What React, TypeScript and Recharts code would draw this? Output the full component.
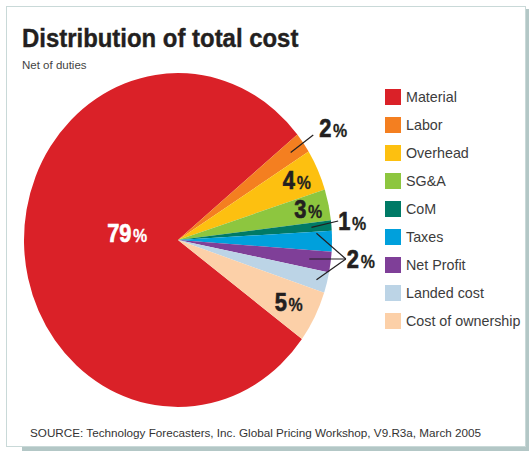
import React from 'react'
import { PieChart, Pie, Cell, Legend } from 'recharts'

const categories = ['Material', 'Labor', 'Overhead', 'SG&A', 'CoM', 'Taxes', 'Net Profit', 'Landed cost', 'Cost of ownership']
const shares = [79, 2, 4, 3, 1, 2, 2, 2, 5]
const colors = ['#DA2128', '#F47F20', '#FDC010', '#8DC63F', '#007A66', '#00A0DC', '#7F3F98', '#BCD4E6', '#FCD0A8']

const data = categories.map((name, i) => ({ name, value: shares[i] }))

const SANS = "'Liberation Sans', Arial, Helvetica, sans-serif"
const INK = '#231f20'
const RAD = Math.PI / 180
// the printed pie is a touch taller than it is wide
const SY = 1.084

// condensed heavy figures, squeezed since no narrow face is installed
const Pct = ({ x, y, v, anchor = 'start', fill = INK }: any) => (
  <text
    transform={`translate(${x},${y}) scale(0.84,1)`}
    x={0}
    y={0}
    textAnchor={anchor}
    fill={fill}
    stroke={fill}
    strokeWidth={0.7}
    fontFamily={SANS}
    fontWeight={700}
  >
    <tspan fontSize={26}>{v}</tspan>
    <tspan fontSize={19} dx={2} strokeWidth={0.3}>%</tspan>
  </text>
)

const renderLabel = (props: any) => {
  const { cx, cy, midAngle, outerRadius, index, value } = props
  const pt = (f: number, a: number) => ({
    x: cx + outerRadius * f * Math.cos(-a * RAD),
    y: cy + outerRadius * f * Math.sin(-a * RAD) * SY,
  })
  const hub = { x: cx + outerRadius * 1.09, y: cy + 19 }

  if (index === 0) {
    const p = pt(0.33, midAngle)
    return <Pct x={p.x} y={cy + 2} v={value} anchor="middle" fill="#fff" />
  }
  if (index === 1) {
    const a = pt(0.9, midAngle)
    const b = pt(1.08, midAngle)
    return (
      <g>
        <line x1={a.x} y1={a.y} x2={b.x} y2={b.y} stroke={INK} strokeWidth={1.2} />
        <Pct x={b.x + 6} y={b.y + 2} v={value} />
      </g>
    )
  }
  if (index === 4) {
    const a = pt(0.87, midAngle)
    const b = { x: cx + outerRadius * 1.04, y: cy - 19 }
    return (
      <g>
        <line x1={a.x} y1={a.y} x2={b.x} y2={b.y} stroke={INK} strokeWidth={1.2} />
        <Pct x={b.x} y={cy - 10} v={value} />
      </g>
    )
  }
  if (index >= 5 && index <= 7) {
    const a = pt(index === 5 ? 0.9 : index === 6 ? 0.86 : 0.93, index === 5 ? midAngle + 3 : midAngle)
    return (
      <g>
        <line x1={a.x} y1={a.y} x2={hub.x} y2={hub.y} stroke={INK} strokeWidth={1.2} />
        {index === 6 && <Pct x={hub.x + 1} y={cy + 28} v={value} />}
      </g>
    )
  }
  const f = index === 2 ? 0.85 : index === 3 ? 0.865 : 0.81
  const p = pt(f, midAngle)
  return <Pct x={p.x} y={p.y + 9} v={value} anchor="middle" />
}

// keep the legend in the order of the data, not sorted
const renderLegend = () => (
  <div>
    {categories.map((name, i) => (
      <div key={name} style={{ display: 'flex', alignItems: 'center', height: 28 }}>
        <span style={{ width: 16, height: 16, background: colors[i], marginRight: 5, flex: 'none' }} />
        <span style={{ fontFamily: SANS, fontSize: 14.3, color: '#3c3c3c', whiteSpace: 'nowrap' }}>{name}</span>
      </div>
    ))}
  </div>
)

export default function App() {
  return (
    <div style={{ position: 'absolute', left: 0, top: 0, width: 531, height: 451, background: '#fff', overflow: 'hidden' }}>
      <style>{`.recharts-pie .recharts-sector { transform-origin: 178px 240px; transform: scaleY(${SY}); }`}</style>
      {/* frame with a drop shade on the right and bottom */}
      <div style={{ position: 'absolute', left: 6, top: 6, width: 520, height: 441, border: '1px solid #c9d9d8', boxSizing: 'border-box' }} />
      <div style={{ position: 'absolute', left: 526, top: 9, width: 3, height: 442, background: '#b3c7c6' }} />
      <div style={{ position: 'absolute', left: 22, top: 447, width: 507, height: 4, background: '#b3c7c6' }} />

      <div
        style={{
          position: 'absolute', left: 22, top: 25, fontFamily: SANS, fontWeight: 700, fontSize: 26, lineHeight: '26px',
          color: INK, whiteSpace: 'nowrap', transform: 'scaleX(0.92)', transformOrigin: '0 0', WebkitTextStroke: '0.4px ' + INK,
        }}
      >
        Distribution of total cost
      </div>
      <div style={{ position: 'absolute', left: 22, top: 60, fontFamily: SANS, fontSize: 11.5, lineHeight: '11.5px', color: '#444', whiteSpace: 'nowrap' }}>
        Net of duties
      </div>

      <PieChart width={531} height={451} margin={{ top: 0, right: 0, bottom: 0, left: 0 }} style={{ position: 'absolute', left: 0, top: 0 }}>
        <Pie
          data={data}
          dataKey="value"
          nameKey="name"
          cx={178}
          cy={240}
          outerRadius={154}
          startAngle={323.6}
          endAngle={-36.4}
          stroke="none"
          labelLine={false}
          label={renderLabel}
          isAnimationActive={false}
        >
          {data.map((entry, index) => (
            <Cell key={`cell-${index}`} fill={colors[index]} />
          ))}
        </Pie>
        <Legend
          layout="vertical"
          content={renderLegend}
          wrapperStyle={{ position: 'absolute', left: 385, top: 83, width: 145, bottom: 'auto', right: 'auto' }}
        />
      </PieChart>

      <div style={{ position: 'absolute', left: 30, top: 427, fontFamily: SANS, fontSize: 11.7, lineHeight: '11.7px', color: '#333', whiteSpace: 'nowrap' }}>
        SOURCE: Technology Forecasters, Inc. Global Pricing Workshop, V9.R3a, March 2005
      </div>
    </div>
  )
}
